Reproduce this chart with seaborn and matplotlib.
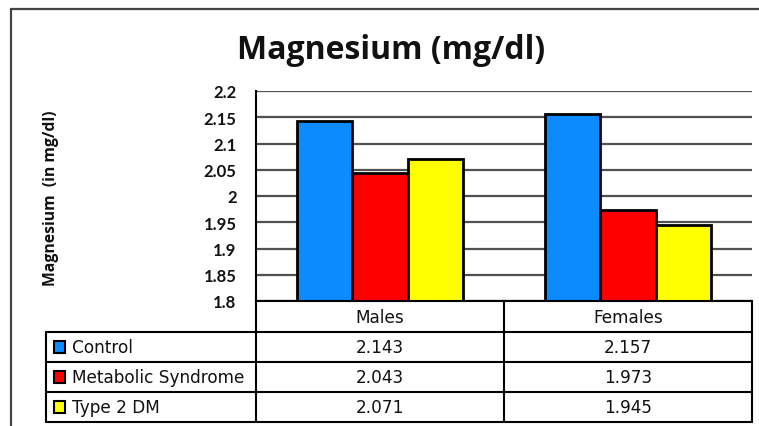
import numpy as np
import pandas as pd
import matplotlib
matplotlib.use("Agg")
import matplotlib.pyplot as plt
import matplotlib.transforms as mtransforms
from matplotlib.lines import Line2D
from matplotlib.patches import Rectangle
import seaborn as sns

# ---- data ----
categories = ["Males", "Females"]
series = ["Control", "Metabolic Syndrome", "Type 2 DM"]
control = [2.143, 2.157]
metabolic = [2.043, 1.973]
type2dm = [2.071, 1.945]
value_labels = {"Control": ["2.143", "2.157"],
                "Metabolic Syndrome": ["2.043", "1.973"],
                "Type 2 DM": ["2.071", "1.945"]}
colors = ["#0b8bff", "#ff0000", "#ffff00"]
yticks = [1.8, 1.85, 1.9, 1.95, 2.0, 2.05, 2.1, 2.15, 2.2]
ytick_labels = ["1.8", "1.85", "1.9", "1.95", "2", "2.05", "2.1", "2.15", "2.2"]
title = "Magnesium (mg/dl)"
ylabel = "Magnesium  (in mg/dl)"

df = pd.DataFrame({
    "Gender": categories * 3,
    "Group": [s for s in series for _ in categories],
    "Value": control + metabolic + type2dm,
})

sns.set_style("white")
plt.rcParams["font.family"] = ["DejaVu Sans"]

W, H = 759, 427
fig = plt.figure(figsize=(W / 100, H / 100), dpi=100)
fig.patch.set_facecolor("white")


def fx(px):
    return px / W


def fy(py):
    return 1 - py / H


ax = fig.add_axes([fx(256), fy(302), fx(752) - fx(256), fy(92) - fy(302)])
sns.barplot(data=df, x="Gender", y="Value", hue="Group", order=categories,
            hue_order=series, palette=colors, saturation=1, width=0.667,
            gap=0, edgecolor="black", linewidth=2, legend=False, ax=ax,
            errorbar=None)
ax.set_ylim(1.8, 2.2)
ax.set_xlim(-0.5, 1.5)
ax.set_yticks(yticks)
ax.set_yticklabels(ytick_labels, fontfamily="Lato", fontweight="bold",
                   fontsize=12, color="#111111")
ax.tick_params(axis="y", length=0, pad=14)
ax.tick_params(axis="x", length=0, labelbottom=False)
ax.set_xlabel("")
ax.set_ylabel("")
ax.yaxis.grid(True, color="#505050", linewidth=1.6)
ax.set_axisbelow(True)
for s in ["top", "right"]:
    ax.spines[s].set_visible(False)
for s in ["left", "bottom"]:
    ax.spines[s].set_color("black")
    ax.spines[s].set_linewidth(1.5)

# title and y label
fig.text(fx(391), fy(59), title, ha="center", va="baseline",
         fontfamily="Open Sans", fontweight="bold", fontsize=23, color="#111111")
fig.text(fx(51), fy(198), ylabel, ha="center", va="center", rotation=90,
         fontfamily="Open Sans", fontweight="bold", fontsize=11.3, color="#111111")

# outer chart frame
frame_kw = dict(transform=fig.transFigure, color="#444444", linewidth=1.6)
fig.add_artist(Line2D([fx(11), fx(759)], [fy(10), fy(10)], **frame_kw))
fig.add_artist(Line2D([fx(11), fx(11)], [fy(10), fy(427)], **frame_kw))

# ---- data table below the plot ----
blend = mtransforms.blended_transform_factory(ax.transData, fig.transFigure)
line_kw = dict(color="black", linewidth=1.5)
row_tops = [302, 333, 363, 393, 423]
x_left_px = 46
# horizontal lines
for py in row_tops[1:]:
    fig.add_artist(Line2D([fx(x_left_px), fx(256)], [fy(py), fy(py)],
                          transform=fig.transFigure, **line_kw))
    fig.add_artist(Line2D([-0.5, 1.5], [fy(py), fy(py)], transform=blend,
                          **line_kw))
# vertical lines
fig.add_artist(Line2D([fx(x_left_px), fx(x_left_px)], [fy(333), fy(423)],
                      transform=fig.transFigure, **line_kw))
fig.add_artist(Line2D([fx(256), fx(256)], [fy(302), fy(423)],
                      transform=fig.transFigure, **line_kw))
for xb in [0.5, 1.5]:
    fig.add_artist(Line2D([xb, xb], [fy(302), fy(423)], transform=blend,
                          **line_kw))

tkw = dict(fontsize=12.2, color="#111111", va="center")
for i, cat in enumerate(categories):
    fig.text(i, fy(318), cat, ha="center", transform=blend, **tkw)
for r, s in enumerate(series):
    yc = (row_tops[r + 1] + row_tops[r + 2]) / 2
    for i in range(len(categories)):
        fig.text(i, fy(yc), value_labels[s][i], ha="center", transform=blend,
                 **tkw)
    fig.text(fx(72), fy(yc), s, ha="left", **tkw)
    fig.add_artist(Rectangle((fx(54), fy(yc + 6)), fx(11), fy(yc - 6) - fy(yc + 6),
                             transform=fig.transFigure, facecolor=colors[r],
                             edgecolor="black", linewidth=1.5))

fig.savefig("out.png", dpi=100, facecolor="white")
